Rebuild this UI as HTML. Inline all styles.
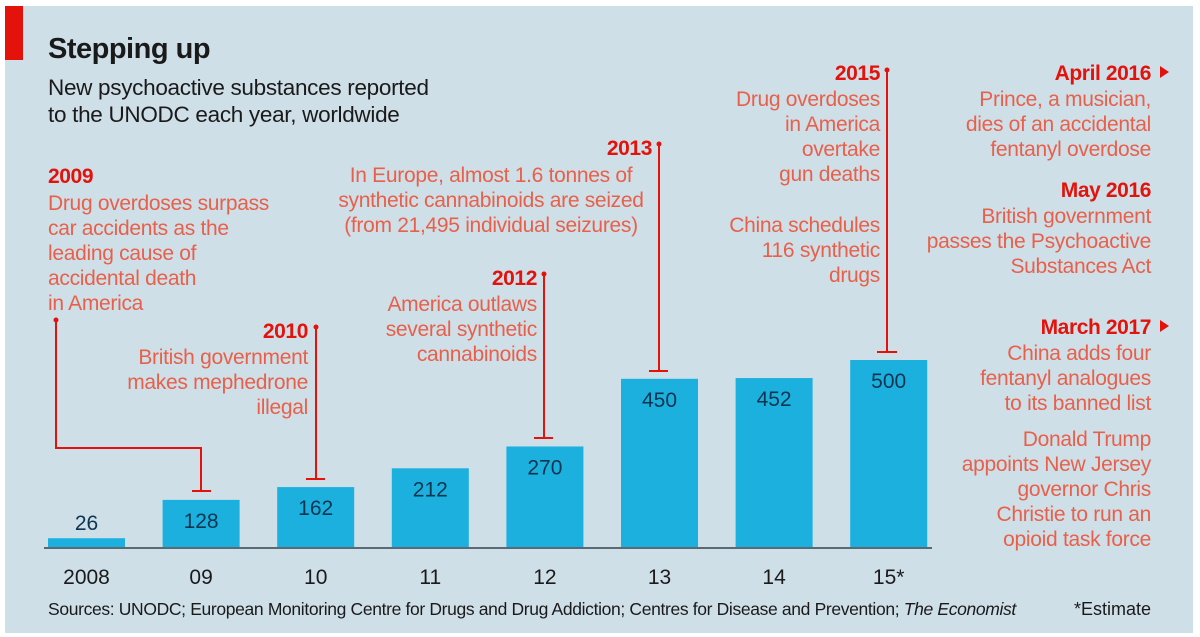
<!DOCTYPE html>
<html><head><meta charset="utf-8"><style>
html,body{margin:0;padding:0;background:#fff;}
svg{display:block;font-family:"Liberation Sans",sans-serif;}
.ann{fill:#e8604a;font-size:21px;letter-spacing:-0.3px;}
.yr{fill:#e3120b;font-size:21px;font-weight:bold;letter-spacing:-0.4px;}
.conn{stroke:#e3120b;stroke-width:2;fill:none;}
</style></head><body>
<svg id="chart" width="1200" height="637" viewBox="0 0 1200 637">
<rect x="5" y="6" width="1188" height="627" fill="#cfdfe8"/>
<rect x="5" y="6" width="18" height="54" fill="#e3120b"/>
<text x="48" y="58" font-size="29" font-weight="bold" fill="#1a1a1a" letter-spacing="-0.5">Stepping up</text>
<text x="48" y="95" font-size="22.5" fill="#1a1a1a" letter-spacing="-0.3"><tspan x="48">New psychoactive substances reported</tspan><tspan x="48" dy="27">to the UNODC each year, worldwide</tspan></text>
<g id="bars"></g>
<line x1="44" y1="548" x2="932" y2="548" stroke="#5a6a75" stroke-width="2"/>
<g id="xlabels"></g>

<g>
<text class="yr" x="48" y="183">2009</text>
<text class="ann" x="48" y="210"><tspan x="48">Drug overdoses surpass</tspan><tspan x="48" dy="25">car accidents as the</tspan><tspan x="48" dy="25">leading cause of</tspan><tspan x="48" dy="25">accidental death</tspan><tspan x="48" dy="25">in America</tspan></text>
<circle cx="56" cy="320" r="2.5" fill="#e3120b"/>
<polyline class="conn" points="56,320 56,448 201,448 201,491"/>
<line class="conn" x1="192" y1="491" x2="211" y2="491"/>
</g>
<g>
<text class="yr" x="308" y="338" text-anchor="end">2010</text>
<text class="ann" text-anchor="end" x="308" y="364"><tspan x="308">British government</tspan><tspan x="308" dy="25">makes mephedrone</tspan><tspan x="308" dy="25">illegal</tspan></text>
<circle cx="316" cy="327" r="2.5" fill="#e3120b"/>
<line class="conn" x1="316" y1="327" x2="316" y2="479"/>
<line class="conn" x1="306" y1="479" x2="325" y2="479"/>
</g>
<g>
<text class="yr" x="537" y="285" text-anchor="end">2012</text>
<text class="ann" text-anchor="end" x="537" y="311"><tspan x="537">America outlaws</tspan><tspan x="537" dy="25">several synthetic</tspan><tspan x="537" dy="25">cannabinoids</tspan></text>
<circle cx="544" cy="274" r="2.5" fill="#e3120b"/>
<line class="conn" x1="544" y1="274" x2="544" y2="438"/>
<line class="conn" x1="534" y1="438" x2="553" y2="438"/>
</g>
<g>
<text class="yr" x="652" y="155" text-anchor="end">2013</text>
<text class="ann" text-anchor="middle" x="491" y="182"><tspan x="491">In Europe, almost 1.6 tonnes of</tspan><tspan x="491" dy="25">synthetic cannabinoids are seized</tspan><tspan x="491" dy="25">(from 21,495 individual seizures)</tspan></text>
<circle cx="659" cy="144" r="2.5" fill="#e3120b"/>
<line class="conn" x1="659" y1="144" x2="659" y2="371"/>
<line class="conn" x1="649" y1="371" x2="668" y2="371"/>
</g>
<g>
<text class="yr" x="880" y="80" text-anchor="end">2015</text>
<text class="ann" text-anchor="end" x="880" y="106"><tspan x="880">Drug overdoses</tspan><tspan x="880" dy="25">in America</tspan><tspan x="880" dy="25">overtake</tspan><tspan x="880" dy="25">gun deaths</tspan><tspan x="880" dy="51">China schedules</tspan><tspan x="880" dy="25">116 synthetic</tspan><tspan x="880" dy="25">drugs</tspan></text>
<circle cx="887" cy="70" r="2.5" fill="#e3120b"/>
<line class="conn" x1="887" y1="70" x2="887" y2="352"/>
<line class="conn" x1="877" y1="352" x2="897" y2="352"/>
</g>
<g>
<text class="yr" x="1151" y="80" text-anchor="end">April 2016</text>
<polygon points="1160,66 1169,72 1160,78" fill="#e3120b"/>
<text class="ann" text-anchor="end" x="1151" y="106"><tspan x="1151">Prince, a musician,</tspan><tspan x="1151" dy="25">dies of an accidental</tspan><tspan x="1151" dy="25">fentanyl overdose</tspan></text>
</g>
<g>
<text class="yr" x="1151" y="197" text-anchor="end">May 2016</text>
<text class="ann" text-anchor="end" x="1151" y="223"><tspan x="1151">British government</tspan><tspan x="1151" dy="25">passes the Psychoactive</tspan><tspan x="1151" dy="25">Substances Act</tspan></text>
</g>
<g>
<text class="yr" x="1151" y="334" text-anchor="end">March 2017</text>
<polygon points="1160,320 1169,326 1160,332" fill="#e3120b"/>
<text class="ann" text-anchor="end" x="1151" y="360"><tspan x="1151">China adds four</tspan><tspan x="1151" dy="25">fentanyl analogues</tspan><tspan x="1151" dy="25">to its banned list</tspan><tspan x="1151" dy="36">Donald Trump</tspan><tspan x="1151" dy="25">appoints New Jersey</tspan><tspan x="1151" dy="25">governor Chris</tspan><tspan x="1151" dy="25">Christie to run an</tspan><tspan x="1151" dy="25">opioid task force</tspan></text>
</g>
<text x="48" y="615" font-size="17.5" fill="#1a1a1a" letter-spacing="-0.35">Sources: UNODC; European Monitoring Centre for Drugs and Drug Addiction; Centres for Disease and Prevention; <tspan font-style="italic">The Economist</tspan></text>
<text x="1151" y="615" font-size="18" fill="#1a1a1a" text-anchor="end">*Estimate</text>
</svg>
<script>
const categories = ["2008","09","10","11","12","13","14","15*"];
const values = [26,128,162,212,270,450,452,500];
const NS = "http://www.w3.org/2000/svg";
const baseY = 548, pxPerUnit = 0.376, x0 = 48, step = 114.6, bw = 77;
function xScale(i){ return x0 + i*step; }
function yScale(v){ return baseY - v*pxPerUnit; }
const gb = document.getElementById('bars');
const gx = document.getElementById('xlabels');
values.forEach((v,i)=>{
  const r = document.createElementNS(NS,'rect');
  r.setAttribute('x', xScale(i)); r.setAttribute('y', yScale(v));
  r.setAttribute('width', bw); r.setAttribute('height', baseY - yScale(v));
  r.setAttribute('fill', '#1bb0de');
  
  
  gb.appendChild(r);
  const t = document.createElementNS(NS,'text');
  t.setAttribute('x', xScale(i) + bw/2);
  t.setAttribute('y', v < 60 ? yScale(v) - 8 : yScale(v) + 28);
  t.setAttribute('text-anchor','middle'); t.setAttribute('font-size','21');
  t.setAttribute('fill','#0c3550');
  t.textContent = v;
  
  
  gb.appendChild(t);
  const l = document.createElementNS(NS,'text');
  l.setAttribute('x', xScale(i) + bw/2); l.setAttribute('y', 584);
  l.setAttribute('text-anchor','middle'); l.setAttribute('font-size','21');
  l.setAttribute('fill','#1a1a1a');
  l.textContent = categories[i];
  
  
  gx.appendChild(l);
});
</script>
</body></html>
